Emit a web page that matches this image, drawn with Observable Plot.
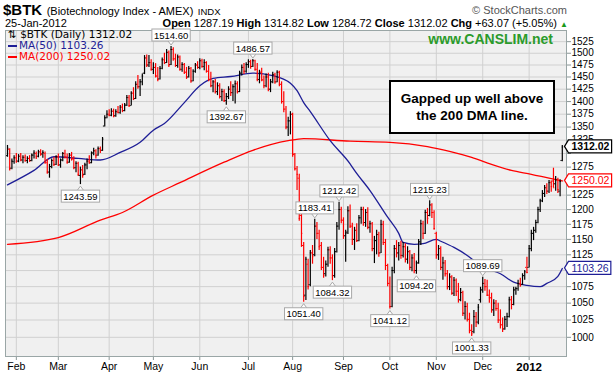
<!DOCTYPE html>
<html><head><meta charset="utf-8">
<script src="https://cdn.jsdelivr.net/npm/d3@7"></script>
<script src="https://cdn.jsdelivr.net/npm/@observablehq/plot@0.6"></script>
<style>
body{margin:0;background:#fff;}
#wrap{position:relative;width:614px;height:376px;overflow:hidden;font-family:"Liberation Sans",Arial,sans-serif;color:#000;}
#wrap svg{position:absolute;left:0;top:0;}
.ov{position:absolute;white-space:nowrap;}
</style></head><body><div id="wrap"></div>
<script>
const opens=[1296,1308,1273,1285,1292,1286,1295,1288,1293,1287,
1291,1287,1297,1300,1295,1303,1299,1300,1283,1266,
1276,1287,1280,1294,1279,1288,1300,1293,1284,1297,
1290,1274,1282,1260,1270,1262,1279,1286,1283,1301,
1305,1297,1309,1306,1352,1368,1375,1373,1381,1372,
1380,1378,1389,1382,1393,1408,1392,1417,1406,1435,
1430,1440,1458,1490,1475,1480,1466,1470,1452,1446,
1468,1486,1480,1502,1476,1508,1488,1474,1492,1466,
1476,1460,1450,1468,1442,1462,1475,1470,1484,1472,
1480,1462,1445,1432,1440,1420,1432,1410,1420,1402,
1410,1425,1418,1430,1436,1420,1458,1470,1462,1476,
1482,1472,1484,1466,1445,1460,1444,1432,1450,1425,
1440,1455,1440,1460,1435,1400,1385,1350,1362,1375,
1298,1272,1255,1190,1140,1062,1110,1078,1128,1125,
1172,1160,1140,1105,1095,1110,1133,1120,1092,1130,
1172,1200,1182,1156,1162,1198,1172,1150,1165,1148,
1186,1200,1178,1195,1170,1176,1135,1148,1158,1128,
1175,1145,1108,1080,1045,1100,1135,1128,1140,1124,
1138,1118,1130,1105,1120,1100,1112,1146,1176,1160,
1195,1190,1208,1195,1160,1125,1135,1105,1112,1095,
1075,1090,1065,1085,1068,1055,1066,1035,1045,1026,
1010,1008,1030,1022,1055,1070,1080,1075,1062,1058,
1040,1050,1042,1025,1018,1012,1026,1030,1055,1048,
1070,1072,1080,1078,1092,1105,1105,1135,1160,1165,
1178,1200,1215,1228,1238,1232,1247,1250,1245,1252,
1232,1287.19];
const highs=[1315,1309,1290,1296,1300,1298,1300,1296,1297,1294,
1296,1299,1305,1303,1306,1307,1305,1303,1289,1280,
1290,1293,1296,1299,1290,1302,1306,1299,1300,1302,
1294,1285,1284,1275,1278,1282,1290,1296,1303,1310,
1307,1312,1312,1330,1372,1382,1384,1386,1385,1384,
1390,1392,1395,1396,1412,1412,1420,1428,1440,1453,
1445,1456,1495,1496,1495,1486,1480,1478,1470,1472,
1490,1500,1508,1505,1514.6,1512,1498,1496,1494,1480,
1478,1470,1472,1470,1465,1478,1482,1488,1487,1486,
1482,1474,1460,1443,1445,1438,1436,1425,1424,1416,
1430,1440,1434,1442,1440,1462,1475,1478,1480,1486,
1485,1486.57,1485,1478,1464,1468,1452,1456,1458,1445,
1460,1458,1463,1462,1440,1420,1390,1369,1380,1377,
1300,1276,1262,1195,1145,1121,1118,1132,1140,1183.41,
1178,1165,1145,1121,1115,1137,1138,1125,1135,1178,
1212.42,1204,1186,1165,1205,1208,1177,1170,1176,1190,
1204,1204,1200,1203,1180,1178,1155,1165,1162,1182,
1180,1150,1110,1090,1105,1140,1148,1145,1147,1145,
1143,1138,1132,1125,1127,1115,1150,1182,1180,1199,
1202,1215.23,1210,1198,1162,1140,1138,1121,1116,1100,
1095,1092,1089,1087,1080,1072,1068,1052,1050,1035,
1018,1039,1036,1048,1074,1089.69,1086,1085,1070,1065,
1055,1054,1050,1040,1028,1030,1035,1059,1060,1074,
1074,1085,1088,1095,1100,1121,1140,1165,1170,1182,
1204,1218,1233,1242,1245,1251,1250,1273,1258,1255,
1252,1314.82];
const lows=[1293,1268,1270,1280,1282,1283,1285,1281,1284,1281,
1284,1285,1290,1289,1292,1295,1291,1280,1262,1255,
1272,1276,1278,1276,1273,1285,1290,1280,1282,1286,
1270,1265,1258,1243.59,1255,1260,1270,1280,1281,1296,
1290,1295,1300,1304,1350,1366,1370,1370,1368,1369,
1376,1375,1378,1380,1390,1388,1391,1402,1404,1425,
1410,1432,1455,1470,1470,1462,1455,1448,1440,1444,
1465,1476,1478,1470,1474,1483,1470,1468,1462,1460,
1455,1445,1448,1437,1440,1458,1466,1465,1468,1463,
1458,1440,1428,1418,1415,1412,1405,1400,1398,1392.67,
1404,1410,1400,1395,1415,1418,1452,1455,1458,1468,
1466,1470,1462,1440,1436,1440,1426,1428,1420,1418,
1436,1435,1438,1430,1395,1378,1345,1332,1335,1293,
1268,1233,1180,1137,1051.4,1054,1070,1075,1110,1122,
1150,1132,1100,1088,1090,1105,1110,1084.32,1088,1128,
1165,1176,1150,1113,1158,1168,1140,1132,1145,1146,
1175,1172,1170,1166,1160,1130,1111,1125,1121,1127,
1140,1100,1075,1041.12,1043,1095,1120,1115,1118,1120,
1112,1110,1100,1098,1095,1094.2,1110,1140,1150,1158,
1175,1188,1185,1165,1118,1116,1100,1085,1090,1070,
1069,1062,1060,1060,1050,1052,1030,1025,1022,1005,
1001.33,1005,1014,1018,1050,1065,1068,1060,1050,1035,
1030,1038,1020,1012,1007,1010,1014,1028,1040,1046,
1062,1068,1074,1077,1085,1095,1104,1130,1148,1160,
1176,1195,1212,1221,1226,1228,1230,1238,1232,1228,
1222,1284.72];
const closes=[1310,1272,1286,1292,1285,1295,1288,1293,1287,1291,
1286,1297,1301,1294,1303,1299,1302,1284,1266,1276,
1287,1280,1294,1279,1288,1300,1293,1284,1297,1290,
1274,1282,1262,1270,1260,1279,1286,1283,1301,1305,
1296,1309,1306,1327,1368,1375,1373,1381,1371,1380,
1378,1389,1382,1393,1408,1392,1417,1406,1435,1430,
1440,1452,1490,1475,1480,1466,1470,1452,1445,1468,
1486,1480,1502,1475,1508,1488,1474,1492,1466,1476,
1460,1450,1468,1442,1462,1475,1470,1484,1472,1480,
1462,1445,1432,1440,1420,1432,1410,1420,1402,1410,
1425,1418,1430,1436,1420,1458,1470,1462,1476,1482,
1472,1484,1466,1445,1460,1444,1432,1450,1425,1440,
1455,1440,1460,1435,1400,1385,1350,1362,1375,1300,
1272,1262,1185,1160,1060,1118,1075,1128,1122,1172,
1160,1138,1105,1092,1110,1133,1120,1092,1130,1172,
1200,1182,1156,1160,1198,1172,1150,1165,1148,1186,
1200,1178,1195,1170,1176,1135,1148,1158,1128,1175,
1145,1108,1080,1045,1100,1135,1128,1140,1124,1138,
1118,1130,1105,1120,1100,1112,1146,1176,1160,1195,
1185,1208,1195,1168,1125,1135,1105,1112,1095,1075,
1090,1065,1085,1068,1055,1066,1035,1045,1026,1010,
1005,1030,1022,1044,1070,1080,1075,1062,1058,1040,
1050,1042,1025,1018,1012,1026,1030,1055,1048,1070,
1072,1080,1078,1092,1098,1097,1135,1160,1165,1178,
1200,1215,1228,1238,1232,1247,1240,1238,1252,1235,
1248.95,1312.02];

const ma50Idx=[0,12,21,32,42,51,60,66,71,80,87,93,101,111,120,128,131,134,137,146,155,157,164,172,177,179,184,188,194,196,202,208,211,217,223,229,235,241,244,249,251];
const ma50Val=[1243,1269,1294,1291,1288,1302,1321,1344,1357,1398,1432,1447,1451,1458,1453,1437,1422,1398,1380,1324,1281,1269,1233,1187,1160,1145,1142,1143,1150,1147,1137,1124,1116,1103,1095,1082,1077,1075,1080,1091,1103.26];
const ma200Idx=[0,23,42,52,66,78,98,111,127,134,155,173,190,200,210,219,228,237,245,251];
const ma200Val=[1142,1153,1182,1195,1225,1247,1284,1306,1324,1328,1323,1321,1313,1304,1293,1280,1269,1262,1255,1250.02];

const monthTickIdx=[4,23,46,66,87,109,129,152,173,194,215,236];
const monthLabels=["Feb","Mar","Apr","May","Jun","Jul","Aug","Sep","Oct","Nov","Dec","2012"];
const yTicks=[1000,1025,1050,1075,1100,1125,1150,1175,1200,1225,1250,1275,1300,1325,1350,1375,1400,1425,1450,1475,1500,1525];
const yTicksHidden=[1100,1250,1300];

const calloutIdx=[74,111,99,33,150,139,134,147,173,185,191,215,210];
const calloutVal=[1514.60,1486.57,1392.67,1243.59,1212.42,1183.41,1051.40,1084.32,1041.12,1094.20,1215.23,1089.69,1001.33];
const calloutSide=["above","above","below","below","above","above","below","below","below","below","above","above","below"];

const lastLabels=["1312.02","1250.02","1103.26"];
const lastValues=[1312.02,1250.02,1103.26];
const lastColors=["#000000","#ff0000","#1e1e96"];

const UP="#000000", DOWN="#ff0000";
const bars=closes.map((c,i)=>({i,o:opens[i],h:highs[i],l:lows[i],c,
  col:(i===0?c>=opens[i]:c>=closes[i-1])?UP:DOWN}));
const ma50=ma50Idx.map((i,k)=>({i,v:ma50Val[k]}));
const ma200=ma200Idx.map((i,k)=>({i,v:ma200Val[k]}));
const callouts=calloutIdx.map((i,k)=>({i,v:calloutVal[k],side:calloutSide[k],t:calloutVal[k].toFixed(2)}));
const lastv=lastValues.map((v,k)=>({v,t:lastLabels[k],c:lastColors[k]}));

const F="Liberation Sans, Arial, sans-serif";
const chart=Plot.plot({
  width:614,height:376,marginLeft:5,marginRight:48,marginTop:30,marginBottom:20,
  style:{background:"transparent",fontFamily:F,fontSize:"10px",color:"#000"},
  x:{type:"linear",domain:[-0.9,252.9]},
  y:{type:"log",domain:[973,1549.5]},
  color:{type:"identity"},
  marks:[
    Plot.frame({fill:"#f0f0f0",stroke:null}),
    Plot.gridY(yTicks,{stroke:"#d0d0d0",strokeOpacity:1}),
    Plot.gridX(monthTickIdx,{stroke:"#d0d0d0",strokeOpacity:1}),
    Plot.axisY(yTicks,{anchor:"right",label:null,tickSize:4,tickPadding:1,tickFormat:d=>yTicksHidden.includes(d)?"":String(d),fontSize:10,stroke:"#8a9696"}),
    Plot.axisX(monthTickIdx,{anchor:"bottom",label:null,tickSize:4,tickPadding:2,tickFormat:d=>monthLabels[monthTickIdx.indexOf(d)],fontSize:10.5,stroke:"#8a9696"}),
    Plot.line(ma200,{x:"i",y:"v",stroke:"#ff0000",strokeWidth:1.3,curve:"monotone-x"}),
    Plot.line(ma50,{x:"i",y:"v",stroke:"#1e1e96",strokeWidth:1.3,curve:"monotone-x"}),
    Plot.ruleX(bars,{x:"i",y1:"l",y2:"h",stroke:"col",strokeWidth:1.2}),
    Plot.ruleY(bars,{y:"o",x1:d=>d.i-0.6,x2:"i",stroke:"col",strokeWidth:1}),
    Plot.ruleY(bars,{y:"c",x1:"i",x2:d=>d.i+0.6,stroke:"col",strokeWidth:1}),
    Plot.frame({stroke:"#9aa6a6"}),
    Plot.text(callouts.filter(d=>d.side==="above"),{x:"i",y:"v",text:"t",dy:-11,fontSize:9.5,fontFamily:F,fill:"#000",ariaDescription:"callout-above"}),
    Plot.text(callouts.filter(d=>d.side==="below"),{x:"i",y:"v",text:"t",dy:12,fontSize:9.5,fontFamily:F,fill:"#000",ariaDescription:"callout-below"}),
    Plot.text(lastv.slice(0,1),{y:"v",text:"t",fill:"c",frameAnchor:"right",dx:5,textAnchor:"start",fontSize:10.5,fontWeight:"bold",fontFamily:F,ariaDescription:"lastval"}),
    Plot.text(lastv.slice(1),{y:"v",text:"t",fill:"c",frameAnchor:"right",dx:5,textAnchor:"start",fontSize:10.5,fontFamily:F,ariaDescription:"lastval"})
  ]
});
const wrap=document.getElementById("wrap");
wrap.appendChild(chart);
const NS="http://www.w3.org/2000/svg";
function boxCallouts(sel,above){
  d3.select(chart).selectAll(sel).each(function(){
    const b=this.getBBox();
    const t=this.getAttribute("transform");
    const x0=b.x-2,x1=b.x+b.width+2,y0=b.y-0.5,y1=b.y+b.height+0.5,cx=(x0+x1)/2;
    const p=document.createElementNS(NS,"path");
    p.setAttribute("d",above?`M${cx-3},${y1}L${cx},${y1+4}L${cx+3},${y1}`:`M${cx-3},${y0}L${cx},${y0-4}L${cx+3},${y0}`);
    p.setAttribute("fill","#fff");p.setAttribute("stroke","#a8a8a8");
    if(t)p.setAttribute("transform",t);
    const r=document.createElementNS(NS,"rect");
    r.setAttribute("x",x0);r.setAttribute("y",y0);
    r.setAttribute("width",x1-x0);r.setAttribute("height",y1-y0);
    r.setAttribute("fill","#fff");r.setAttribute("stroke","#a8a8a8");
    if(t)r.setAttribute("transform",t);
    this.parentNode.insertBefore(p,this);
    this.parentNode.insertBefore(r,this);
  });
}
boxCallouts("g[aria-description='callout-above'] text",true);
boxCallouts("g[aria-description='callout-below'] text",false);
d3.select(chart).selectAll("g[aria-description='lastval'] text").each(function(){
  const b=this.getBBox();
  const col=this.getAttribute("fill")||"#000";
  const x0=b.x-3,x1=b.x+b.width+2,y0=b.y-0.5,y1=b.y+b.height+0.5,cy=(y0+y1)/2;
  const p=document.createElementNS(NS,"path");
  p.setAttribute("d",`M${x0-4},${cy}L${x0},${y0}L${x1},${y0}L${x1},${y1}L${x0},${y1}Z`);
  p.setAttribute("fill","#fff");p.setAttribute("stroke",col);p.setAttribute("stroke-width",1.2);
  const t=this.getAttribute("transform");if(t)p.setAttribute("transform",t);
  this.parentNode.insertBefore(p,this);
});
d3.select(chart).selectAll("text").filter(function(){return this.textContent==="2012";}).attr("font-weight","bold").attr("font-size",11.5);

function ov(html,style){const d=document.createElement("div");d.className="ov";d.style.cssText=style;d.innerHTML=html;wrap.appendChild(d);}
ov('<span style="font-weight:bold;font-size:15px">$BTK</span> <span style="font-size:11px">(Biotechnology Index - AMEX)</span> <span style="font-size:9.5px">INDX</span>','left:3px;top:1px;');
ov('© StockCharts.com','right:47px;top:4px;font-size:11px;color:#555;');
ov('25-Jan-2012','left:5px;top:17px;font-size:11px;');
ov('<b>Open</b> 1287.19 <b>High</b> 1314.82 <b>Low</b> 1284.72 <b>Close</b> 1312.02 <b>Chg</b> +63.07 (+5.05%) <span style="color:#1a9a1a;font-size:8px">▲</span>','right:46px;top:17px;font-size:11px;');
ov('<div style="line-height:11px;font-family:\'DejaVu Sans\',sans-serif;font-size:10.5px">'+
  '<div>⇅ $BTK (Daily) 1312.02</div>'+
  '<div style="color:#1e1e96"><span style="display:inline-block;width:9px;height:2px;background:#1e1e96;vertical-align:middle;margin-right:2px"></span>MA(50) 1103.26</div>'+
  '<div style="color:#ff0000"><span style="display:inline-block;width:9px;height:2px;background:#ff0000;vertical-align:middle;margin-right:2px"></span>MA(200) 1250.02</div></div>','left:8px;top:29px;');
ov('www.CANSLIM.net','right:61px;top:31px;font-size:14px;font-weight:bold;color:#2b9b2b;');
ov('Gapped up well above<br>the 200 DMA line.','left:389px;top:80px;width:162px;border:2px solid #000;background:#fff;text-align:center;font-weight:bold;font-size:13.5px;line-height:17px;padding-top:8px;box-sizing:content-box;height:42px;');
</script></body></html>
